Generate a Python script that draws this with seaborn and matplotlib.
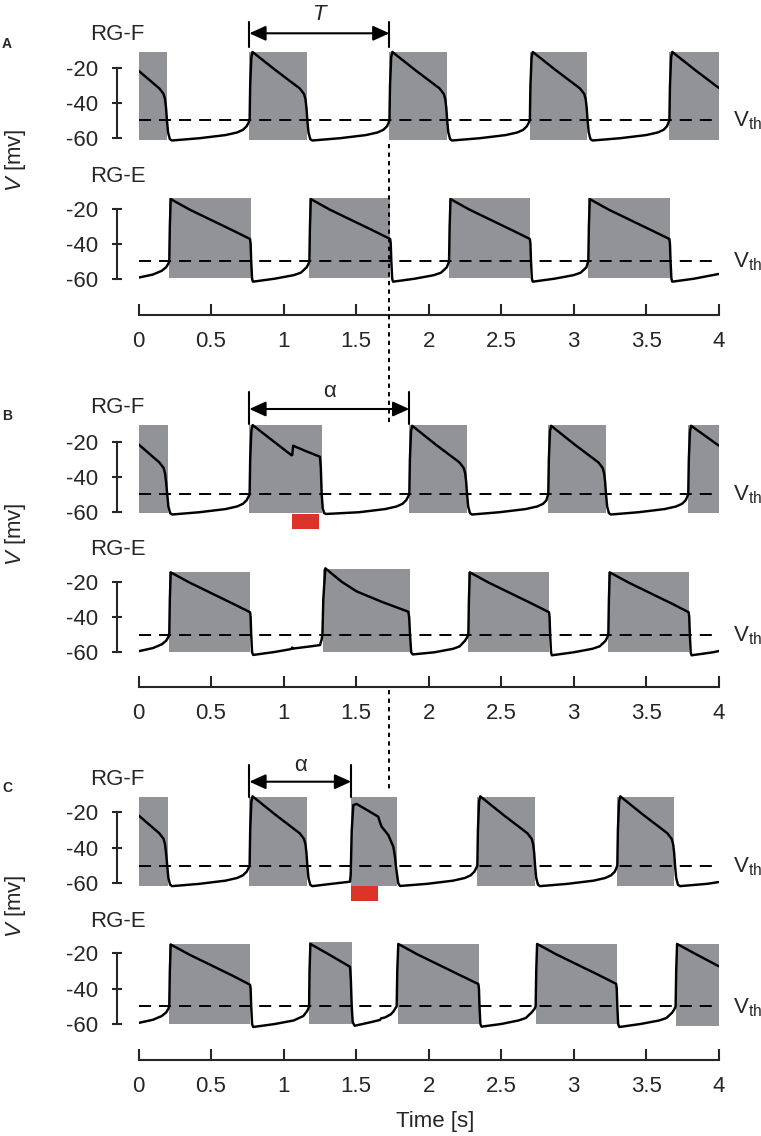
import matplotlib
matplotlib.use("Agg")
import matplotlib.pyplot as plt
import matplotlib.lines as mlines
from matplotlib import transforms
import seaborn as sns
import pandas as pd

# ---------------- data ----------------
TICKS = [0, 0.5, 1, 1.5, 2, 2.5, 3, 3.5, 4]
TICK_LABELS = ["0", "0.5", "1", "1.5", "2", "2.5", "3", "3.5", "4"]
Y_TICKS = [-60, -40, -20]
Y_TICK_LABELS = ["-60", "-40", "-20"]
V_TH = -50

# Panel A, RG-F trace (time s, V mV)
A_F = [(0, -21.7), (0.143, -31.8), (0.173, -35), (0.183, -38), (0.190, -43), (0.196, -50), (0.204, -57), (0.216, -60.8), (0.230, -61.6),
       (0.42, -60.3), (0.60, -58.5), (0.68, -57), (0.72, -55.5), (0.745, -53.5), (0.758, -51.5), (0.766, -50), (0.770, -30), (0.778, -14), (0.786, -11),
       (0.946, -21.5), (1.111, -31.8), (1.141, -35), (1.151, -38), (1.158, -43), (1.164, -50), (1.172, -57), (1.184, -60.8), (1.198, -61.6),
       (1.388, -60.3), (1.568, -58.5), (1.648, -57), (1.688, -55.5), (1.713, -53.5), (1.724, -51.5), (1.730, -50), (1.734, -30), (1.742, -14), (1.750, -11),
       (1.910, -21.5), (2.075, -31.8), (2.105, -35), (2.115, -38), (2.122, -43), (2.128, -50), (2.136, -57), (2.148, -60.8), (2.162, -61.6),
       (2.352, -60.3), (2.532, -58.5), (2.612, -57), (2.652, -55.5), (2.677, -53.5), (2.690, -51.5), (2.698, -50), (2.702, -30), (2.710, -14), (2.718, -11),
       (2.878, -21.5), (3.043, -31.8), (3.073, -35), (3.083, -38), (3.090, -43), (3.096, -50), (3.104, -57), (3.116, -60.8), (3.130, -61.6),
       (3.320, -60.3), (3.500, -58.5), (3.580, -57), (3.620, -55.5), (3.643, -53.5), (3.653, -51.5), (3.660, -50), (3.664, -30), (3.672, -14), (3.680, -11),
       (3.840, -21.5), (4.0, -31.5)]
A_F_ON = [0, 0.764, 1.730, 2.698, 3.660]
A_F_OFF = [0.196, 1.162, 2.126, 3.095, 4.0]
A_F_TOP = [-10.9, -10.9, -10.9, -10.9, -10.9]
A_F_BOT = [-61.3, -61.3, -61.3, -61.3, -61.3]

# Panel A, RG-E trace
A_E = [(0, -59.4), (0.10, -57.6), (0.16, -55.5), (0.19, -53.5), (0.205, -51.5), (0.212, -50), (0.216, -30), (0.222, -14.5),
       (0.352, -20.5), (0.502, -26.5), (0.652, -32.5), (0.769, -37.3), (0.773, -40), (0.777, -50), (0.783, -60), (0.789, -61.7),
       (0.939, -60), (1.069, -58), (1.119, -56.6), (1.159, -53.5), (1.172, -51.5), (1.178, -50), (1.182, -30), (1.188, -14.5),
       (1.318, -20.5), (1.468, -26.5), (1.618, -32.5), (1.735, -37.3), (1.739, -40), (1.743, -50), (1.749, -60), (1.755, -61.7),
       (1.905, -60), (2.035, -58), (2.085, -56.6), (2.125, -53.5), (2.135, -51.5), (2.141, -50), (2.145, -30), (2.151, -14.5),
       (2.281, -20.5), (2.431, -26.5), (2.581, -32.5), (2.698, -37.3), (2.702, -40), (2.706, -50), (2.712, -60), (2.718, -61.7),
       (2.868, -60), (2.998, -58), (3.048, -56.6), (3.088, -53.5), (3.095, -51.5), (3.101, -50), (3.105, -30), (3.111, -14.5),
       (3.241, -20.5), (3.391, -26.5), (3.541, -32.5), (3.660, -37.3), (3.664, -40), (3.668, -50), (3.674, -60), (3.680, -61.7),
       (3.830, -60), (4.0, -57.3)]
A_E_ON = [0.212, 1.178, 2.141, 3.101]
A_E_OFF = [0.773, 1.734, 2.699, 3.664]
A_E_TOP = [-14.1, -14.1, -14.1, -14.1]
A_E_BOT = [-59.4, -59.4, -59.4, -59.4]

# Panel B, RG-F trace
B_F = [(0, -21.5), (0.143, -31.8), (0.173, -35), (0.183, -38), (0.190, -43), (0.198, -50), (0.206, -57), (0.218, -60.8), (0.232, -61.6),
       (0.42, -60.3), (0.60, -58.5), (0.68, -57), (0.72, -55.5), (0.745, -53.5), (0.758, -51.5), (0.766, -50), (0.770, -30), (0.778, -14), (0.787, -10.5),
       (0.92, -19.1), (1.056, -27.8), (1.060, -27.6), (1.066, -22.3), (1.16, -25.6), (1.251, -28.6), (1.257, -35), (1.263, -50), (1.270, -58), (1.280, -60.8), (1.293, -61.3),
       (1.521, -60.3), (1.700, -58.5), (1.780, -57), (1.820, -55.5), (1.845, -53.5), (1.858, -51.5), (1.867, -50), (1.871, -30), (1.879, -14), (1.887, -10.9),
       (2.047, -21.5), (2.212, -31.8), (2.242, -35), (2.252, -38), (2.259, -43), (2.265, -50), (2.273, -57), (2.285, -60.8), (2.299, -61.6),
       (2.489, -60.3), (2.669, -58.5), (2.749, -57), (2.789, -55.5), (2.812, -53.5), (2.819, -51.5), (2.825, -50), (2.829, -30), (2.837, -14), (2.845, -10.9),
       (3.005, -21.5), (3.170, -31.8), (3.200, -35), (3.210, -38), (3.217, -43), (3.223, -50), (3.231, -57), (3.243, -60.8), (3.257, -61.6),
       (3.447, -60.3), (3.627, -58.5), (3.707, -57), (3.747, -55.5), (3.772, -53.5), (3.783, -51.5), (3.790, -50), (3.794, -30), (3.802, -14), (3.810, -10.9),
       (4.0, -22.2)]
B_F_ON = [0, 0.764, 1.867, 2.825, 3.790]
B_F_OFF = [0.201, 1.267, 2.263, 3.221, 4.0]
B_F_TOP = [-10.5, -10.5, -10.5, -10.5, -10.5]
B_F_BOT = [-60.9, -60.9, -60.9, -60.9, -60.9]
B_STIM = (1.061, 1.247, -61.2, -69.8)   # start, end, top, bottom

# Panel B, RG-E trace
B_E = [(0, -59.4), (0.10, -57.6), (0.16, -55.5), (0.19, -53.5), (0.205, -51.5), (0.212, -50), (0.216, -30), (0.222, -14.7),
       (0.352, -20.5), (0.502, -26.5), (0.652, -32.5), (0.769, -37.3), (0.773, -40), (0.777, -50), (0.783, -60), (0.791, -61.5),
       (0.94, -59.8), (1.044, -58.3), (1.056, -58.0), (1.059, -57.3), (1.064, -57.9), (1.20, -56.5), (1.251, -55.9), (1.262, -53), (1.268, -50), (1.274, -30), (1.288, -12.4),
       (1.40, -20.0), (1.504, -25.5), (1.68, -31.5), (1.860, -37), (1.866, -40), (1.872, -50), (1.880, -60), (1.890, -61.2),
       (2.04, -60), (2.17, -58), (2.215, -56.6), (2.25, -53.5), (2.266, -51.5), (2.274, -50), (2.278, -30), (2.284, -14.7),
       (2.414, -20.5), (2.564, -26.5), (2.714, -32.5), (2.830, -37.3), (2.834, -40), (2.838, -50), (2.844, -60), (2.850, -61.7),
       (3.00, -60), (3.13, -58), (3.18, -56.6), (3.22, -53.5), (3.232, -51.5), (3.239, -50), (3.243, -30), (3.249, -14.7),
       (3.379, -20.5), (3.529, -26.5), (3.679, -32.5), (3.793, -37.3), (3.797, -40), (3.801, -50), (3.807, -60), (3.813, -61.7),
       (3.96, -60), (4.0, -59.3)]
B_E_ON = [0.212, 1.274, 2.274, 3.239]
B_E_OFF = [0.769, 1.872, 2.832, 3.795]
B_E_TOP = [-14.7, -13.0, -14.7, -14.7]
B_E_BOT = [-59.8, -59.8, -59.8, -59.8]

# Panel C, RG-F trace
C_F = [(0, -21.7), (0.143, -31.8), (0.173, -35), (0.183, -38), (0.190, -43), (0.198, -50), (0.206, -57), (0.218, -60.8), (0.232, -61.6),
       (0.42, -60.3), (0.60, -58.5), (0.68, -57), (0.72, -55.5), (0.745, -53.5), (0.758, -51.5), (0.766, -50), (0.770, -30), (0.778, -14), (0.786, -11),
       (0.946, -21.5), (1.111, -31.8), (1.141, -35), (1.151, -38), (1.158, -43), (1.164, -50), (1.172, -57), (1.184, -60.8), (1.198, -61.6),
       (1.30, -60.6), (1.458, -59.1), (1.463, -55), (1.470, -30), (1.481, -15.9), (1.504, -15.3), (1.596, -19.7), (1.653, -22.5), (1.662, -25), (1.676, -28.1),
       (1.722, -32.8), (1.757, -39.4), (1.768, -45), (1.775, -50.6), (1.791, -60), (1.803, -61.5),
       (1.99, -60.3), (2.17, -58.5), (2.25, -57), (2.29, -55.5), (2.315, -53.5), (2.328, -51.5), (2.336, -50), (2.340, -30), (2.348, -14), (2.356, -11),
       (2.516, -21.5), (2.681, -31.8), (2.711, -35), (2.721, -38), (2.728, -43), (2.734, -50), (2.742, -57), (2.754, -60.8), (2.768, -61.6),
       (2.958, -60.3), (3.138, -58.5), (3.218, -57), (3.258, -55.5), (3.283, -53.5), (3.294, -51.5), (3.301, -50), (3.305, -30), (3.313, -14), (3.321, -11),
       (3.481, -21.5), (3.646, -31.8), (3.676, -35), (3.686, -38), (3.693, -43), (3.699, -50), (3.707, -57), (3.719, -60.8), (3.733, -61.6),
       (3.92, -60.3), (4.0, -59.3)]
C_F_ON = [0, 0.764, 1.463, 2.336, 3.301]
C_F_OFF = [0.201, 1.160, 1.780, 2.734, 3.694]
C_F_TOP = [-11.4, -11.4, -11.4, -11.4, -11.4]
C_F_BOT = [-61.4, -61.4, -61.4, -61.4, -61.4]
C_STIM = (1.466, 1.651, -61.4, -69.8)

# Panel C, RG-E trace
C_E = [(0, -59.4), (0.10, -57.6), (0.16, -55.5), (0.19, -53.5), (0.205, -51.5), (0.212, -50), (0.216, -30), (0.222, -15),
       (0.352, -20.8), (0.502, -26.8), (0.652, -32.8), (0.769, -37.8), (0.773, -40), (0.777, -50), (0.783, -60), (0.791, -61.7),
       (0.94, -60), (1.07, -58), (1.136, -55.5), (1.160, -53), (1.170, -51.5), (1.176, -50), (1.179, -30), (1.185, -14.7),
       (1.32, -21), (1.458, -27.6), (1.464, -35), (1.470, -50), (1.477, -59), (1.490, -61),
       (1.60, -59), (1.665, -57.7), (1.672, -56.8), (1.70, -56.3), (1.74, -54.5), (1.757, -53), (1.772, -51), (1.780, -50), (1.784, -30), (1.791, -14.7),
       (1.92, -20.5), (2.07, -26.5), (2.22, -32.5), (2.343, -37.4), (2.347, -40), (2.351, -50), (2.357, -60), (2.365, -61.5),
       (2.50, -60), (2.62, -58), (2.67, -56.6), (2.71, -53.5), (2.73, -51.5), (2.738, -50), (2.742, -30), (2.748, -14.7),
       (2.878, -20.5), (3.028, -26.5), (3.178, -32.5), (3.293, -37.3), (3.297, -40), (3.301, -50), (3.307, -60), (3.315, -61.7),
       (3.46, -60), (3.59, -58), (3.64, -56.6), (3.68, -53.5), (3.695, -51.5), (3.703, -50), (3.707, -30), (3.713, -14.7),
       (3.843, -20.5), (4.0, -27.3)]
C_E_ON = [0.212, 1.175, 1.787, 2.738, 3.703]
C_E_OFF = [0.769, 1.470, 2.348, 3.297, 4.0]
C_E_TOP = [-14.9, -13.4, -14.7, -14.7, -14.7]
C_E_BOT = [-59.8, -59.8, -59.8, -59.8, -61.4]

# annotation times
T_START, T_END = 0.764, 1.730
ALPHA_B_END = 1.867
ALPHA_C_END = 1.466
T_REF = 1.729

# ---------------- style ----------------
sns.set_style("white")
plt.rcParams["font.family"] = ["Liberation Sans", "DejaVu Sans"]
plt.rcParams["mathtext.fontset"] = "custom"
plt.rcParams["mathtext.rm"] = "Liberation Sans"
plt.rcParams["mathtext.it"] = "Liberation Sans:italic"
plt.rcParams["axes.unicode_minus"] = False

GRAY = "#929397"
RED = "#dc3328"
FS = 16
W, H = 761, 1136

fig = plt.figure(figsize=(W / 100, H / 100), dpi=100)
fig.patch.set_facecolor("white")
PX = transforms.Affine2D().scale(1 / W, -1 / H).translate(0, 1) + fig.transFigure

X0_PX, X1_PX = 138.5, 718.7


def make_axes(p20, p60, ymin, ymax=-5.0):
    s = (p60 - p20) / 40.0
    top = p20 - (ymax + 20) * s
    bot = p20 + (-20 - ymin) * s
    ax = fig.add_axes([X0_PX / W, 1 - bot / H, (X1_PX - X0_PX) / W, (bot - top) / H])
    ax.set_xlim(0, 4)
    ax.set_ylim(ymin, ymax)
    ax.patch.set_alpha(0)
    for sp in ["top", "right"]:
        ax.spines[sp].set_visible(False)
    ax.spines["left"].set_position(("outward", 15.7))
    ax.spines["left"].set_bounds(-60, -20)
    ax.spines["left"].set_linewidth(1.5)
    ax.set_yticks(Y_TICKS)
    ax.set_yticklabels(Y_TICK_LABELS)
    ax.tick_params(axis="y", direction="inout", length=7.2, width=1.5, pad=9.6, labelsize=FS, left=True)
    return ax


def draw_trace(ax, pts, on, off, top, bot, name, label_base):
    df = pd.DataFrame(pts, columns=["t", "v"])
    ax.bar(on, [t - b for t, b in zip(top, bot)], width=[e - s for s, e in zip(on, off)],
           bottom=bot, align="edge", color=GRAY, linewidth=0, zorder=1)
    ax.axhline(V_TH, color="black", lw=1.4, ls=(0, (6.2, 4.1)), zorder=2)
    sns.lineplot(data=df, x="t", y="v", ax=ax, color="black", lw=1.75, sort=False,
                 estimator=None, zorder=3)
    ax.set_xlabel("")
    ax.set_ylabel("")
    vt = transforms.blended_transform_factory(ax.transAxes, ax.transData)
    vt = transforms.offset_copy(vt, fig=fig, y=-4.8, units="points")
    ax.text(1.0247, V_TH, "V$_{\\mathrm{th}}$", transform=vt, fontsize=FS, ha="left", va="baseline",
            clip_on=False)
    fig.text(117.5 / W, 1 - label_base / H, name, fontsize=FS, ha="center", va="baseline")


def finish_F(ax):
    ax.spines["bottom"].set_visible(False)
    ax.tick_params(axis="x", bottom=False, labelbottom=False)


def finish_E(ax):
    ax.spines["bottom"].set_bounds(0, 4)
    ax.spines["bottom"].set_linewidth(1.5)
    ax.set_xticks(TICKS)
    ax.set_xticklabels(TICK_LABELS)
    ax.tick_params(axis="x", direction="in", length=7.7, width=1.5, pad=11.5, labelsize=FS, bottom=True)


# Panel A
axAF = make_axes(67.7, 137.7, -72)
draw_trace(axAF, A_F, A_F_ON, A_F_OFF, A_F_TOP, A_F_BOT, "RG-F", 40)
finish_F(axAF)
axAE = make_axes(208.7, 278.7, -80.7)
draw_trace(axAE, A_E, A_E_ON, A_E_OFF, A_E_TOP, A_E_BOT, "RG-E", 181.7)
finish_E(axAE)

# Panel B
axBF = make_axes(441.7, 511.7, -72)
draw_trace(axBF, B_F, B_F_ON, B_F_OFF, B_F_TOP, B_F_BOT, "RG-F", 413.3)
axBF.bar([B_STIM[0]], [B_STIM[2] - B_STIM[3]], width=[B_STIM[1] - B_STIM[0]], bottom=[B_STIM[3]],
         align="edge", color=RED, linewidth=0, zorder=1)
finish_F(axBF)
axBE = make_axes(581.7, 652.3, -79.5)
draw_trace(axBE, B_E, B_E_ON, B_E_OFF, B_E_TOP, B_E_BOT, "RG-E", 555)
finish_E(axBE)

# Panel C
axCF = make_axes(812.3, 883.3, -72)
draw_trace(axCF, C_F, C_F_ON, C_F_OFF, C_F_TOP, C_F_BOT, "RG-F", 785)
axCF.bar([C_STIM[0]], [C_STIM[2] - C_STIM[3]], width=[C_STIM[1] - C_STIM[0]], bottom=[C_STIM[3]],
         align="edge", color=RED, linewidth=0, zorder=1)
finish_F(axCF)
axCE = make_axes(953.3, 1024, -80.4)
draw_trace(axCE, C_E, C_E_ON, C_E_OFF, C_E_TOP, C_E_BOT, "RG-E", 926.7)
finish_E(axCE)

# panel letters and y labels
for letter, base in [("A", 48.3), ("B", 420), ("C", 791.7)]:
    fig.text(2 / W, 1 - base / H, letter, fontsize=10, fontweight="bold", ha="left", va="baseline")
for yc in [160, 534, 906]:
    fig.text(15 / W, 1 - yc / H, "$V$ [mv]", fontsize=FS, rotation=90, ha="center", va="center")

fig.text(435 / W, 1 - 1127 / H, "Time [s]", fontsize=FS, ha="center", va="baseline")

# period / phase arrows
blend = transforms.blended_transform_factory(axAF.transData, PX)
AH = "<|-|>,head_length=0.55,head_width=0.25"


def interval(x0, x1, ybar0, ybar1, yarr, label, lbase, italic):
    for xx in (x0, x1):
        fig.add_artist(mlines.Line2D([xx, xx], [ybar0, ybar1], transform=blend, color="black", lw=1.5))
    axAF.annotate("", xy=(x1, yarr), xytext=(x0, yarr), xycoords=blend, textcoords=blend,
                  arrowprops=dict(arrowstyle=AH, color="black", lw=1.5, mutation_scale=18,
                                  shrinkA=0, shrinkB=0), annotation_clip=False)
    axAF.text((x0 + x1) / 2, lbase, label, transform=blend, fontsize=FS, ha="center", va="baseline",
              style="italic" if italic else "normal", clip_on=False)


interval(T_START, T_END, 21.7, 46.7, 33.3, "T", 20, True)
interval(T_START, ALPHA_B_END, 392.3, 424.3, 409, "α", 396.7, False)
interval(T_START, ALPHA_C_END, 765, 797.3, 781.7, "α", 770.7, False)

# dotted reference line
for y0, y1 in [(144, 424), (690, 790)]:
    fig.add_artist(mlines.Line2D([T_REF, T_REF], [y0, y1], transform=blend, color="black",
                                 lw=1.4, ls=(0, (2.2, 2.2))))

fig.savefig("out.png", dpi=100, facecolor="white")
